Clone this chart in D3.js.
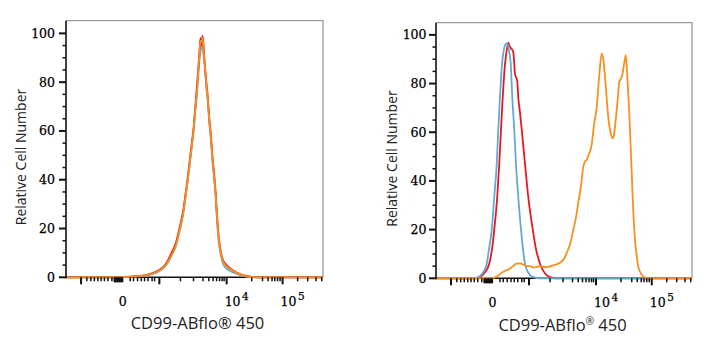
<!DOCTYPE html>
<html><head><meta charset="utf-8">
<script src="https://cdn.jsdelivr.net/npm/d3@7"></script>
<style>body{margin:0;background:#fff}svg{display:block}</style>
</head><body><svg id="c" width="713" height="350"></svg>
<script>
// ---- data (x in display channel units 0..1024, y = relative cell number) ----
const leftX      = [0,216,256,296,336,368,388,404,420,436,452,468,476,484,492,500,508,516,520,528,532,536,540,544,548,552,560,564,572,576,584,588,596,604,612,620,628,640,656,676,704,736,760,1024];
const leftOrange = [0,0,0.2,0.5,1.2,2.5,4,6,9,12.5,19,27,33,39,46,53,60,70,74,86,92,97,96.5,98,93,88,78,74,63,59,48,44,34,21,13,8.5,6,4.5,3.2,2,0.8,0.2,0,0];
const leftBlue   = [0,0,0.2,0.5,1.1,2.3,3.8,5.8,8.8,12.3,18.8,26.5,32.5,38.5,45.5,52.5,59.5,69,73,84,89,93,95,94,91,87,77,73,62,58,47,43,33,20,12,7.5,5,3.5,2.5,1.6,0.6,0.1,0,0];
const leftRed    = [0,0,0.3,0.6,1.4,2.8,4.3,6.5,10,13.5,20,28,34,40,47,54,61,71,76,87,93,98,95,99,95,89,79,75,64,60,49,45,35,22,13.5,9,6.5,5,3.5,2.2,0.9,0.3,0,0];

const rightBlueX = [0,136,163,176,192,203,212,223,233,243,249,256,264,270,276,283,288,294,299,305,313,320,329,340,356,368,389,416,1024];
const rightBlueY = [0,0,0.3,1,3,6,12,20,33.5,47,61,74.5,88,93,95.8,96.5,95.5,92.5,88,74.5,61,47,33.5,20,6,2.5,0.5,0,0];
const rightRedX  = [0,160,176,192,213,224,233,245,253,260,267,276,282,289,294,300,309,316,325,329,336,343,356,369,387,400,416,436,456,476,1024];
const rightRedY  = [0,0,0.5,2,6,12,20,33.5,47,61,74.5,88,93,96.8,95.5,94.5,93,84,81,74.5,68,61,47,33.5,20,12,6,2,0.5,0,0];
const rightOrangeX = [0,224,244,269,296,323,336,363,376,389,416,443,469,496,512,523,536,549,560,569,580,589,596,603,612,623,632,643,652,663,669,676,689,698,707,712,720,728,733,740,746,752,759,764,772,783,788,796,803,809,820,829,849,1024];
const rightOrangeY = [0,0,0.8,2.7,4,6,6.1,5,5,4.4,5,4.6,5.3,6.4,8,10.5,14,19.8,25,31,38,45.8,48,48.6,51,55,63,70.4,82,92.4,90,82.8,66.3,60,57.5,59,66.3,75,80.7,82,84,88,91.7,85,70.4,43,30,15.7,9,4.8,2,0.7,0,0];

const yTicks = [0,20,40,60,80,100];
const yMinorTicks = [5,10,15,25,30,35,45,50,55,65,70,75,85,90,95];
const xMajorTicks = [60,372,640,863];
const xZeroTicks = [194,200,206,212,218,224];
const xMinorTicks = [83,99,113,127,140,153,167,183,256,269,285,300,313,327,343,353,456,508,546,569,586,600,612,622,630,740,783,805,821,832,843,853,923,963,996,1019];
const xTickLabels = [{v:226,base:"0",exp:""},{v:640,base:"10",exp:"4"},{v:863,base:"10",exp:"5"}];

const colors = {blue:"#62a9d6", red:"#e8161f", orange:"#f6901e"};

const svg = d3.select("#c");

function panel(cfg){
  const x = d3.scaleLinear().domain([0,1024]).range([cfg.x0, cfg.x1]);
  const y = d3.scaleLinear().domain([0, cfg.ymax]).range([cfg.y0, cfg.yTop]);
  const g = svg.append("g");
  const id = "clip"+cfg.name;
  svg.append("clipPath").attr("id", id).append("rect")
    .attr("x", cfg.x0).attr("y", cfg.yTop).attr("width", cfg.x1-cfg.x0).attr("height", cfg.y0-cfg.yTop+2);

  // frame top & right
  g.append("path").attr("d", `M${cfg.x0},${cfg.yTop}H${cfg.x1}V${cfg.y0}`)
    .attr("fill","none").attr("stroke","#9a9a9a").attr("stroke-width",1.3);

  // bottom axis line (under curves)
  g.append("line").attr("x1",cfg.x0).attr("x2",cfg.x1).attr("y1",y(0)).attr("y2",y(0))
    .attr("stroke","#111").attr("stroke-width",1.6);

  // curves
  const line = d3.line().x(d=>x(d[0])).y(d=>y(d[1])).curve(d3.curveMonotoneX);
  cfg.series.forEach(s=>{
    g.append("path").datum(s.xs.map((v,i)=>[v, s.ys[i]]))
      .attr("d", line).attr("fill","none").attr("stroke", s.color)
      .attr("stroke-width", 1.8).attr("stroke-linejoin","round")
      .attr("clip-path", `url(#${id})`);
  });

  // left axis line
  g.append("line").attr("x1",cfg.x0).attr("x2",cfg.x0).attr("y1",cfg.yTop).attr("y2",cfg.y0+1)
    .attr("stroke","#111").attr("stroke-width",1.6);

  // y ticks
  yTicks.forEach(t=>{
    g.append("line").attr("x1",cfg.x0-7).attr("x2",cfg.x0).attr("y1",y(t)).attr("y2",y(t))
      .attr("stroke","#111").attr("stroke-width",2);
    g.append("text").attr("x",cfg.x0-cfg.labGap).attr("y",y(t)).attr("dy","0.36em")
      .attr("text-anchor","end").attr("font-family","DejaVu Serif").attr("font-size",12.5)
      .attr("fill","#000").attr("stroke","#000").attr("stroke-width",0.25).text(t);
  });
  yMinorTicks.forEach(t=>{
    g.append("line").attr("x1",cfg.x0-3.5).attr("x2",cfg.x0).attr("y1",y(t)).attr("y2",y(t))
      .attr("stroke","#111").attr("stroke-width",1.5);
  });

  // x ticks
  const yb = y(0);
  xMajorTicks.forEach(t=>{
    g.append("line").attr("x1",x(t)).attr("x2",x(t)).attr("y1",yb).attr("y2",yb+7)
      .attr("stroke","#111").attr("stroke-width",2);
  });
  xZeroTicks.forEach(t=>{
    g.append("line").attr("x1",x(t)).attr("x2",x(t)).attr("y1",yb).attr("y2",yb+5)
      .attr("stroke","#111").attr("stroke-width",2.2);
  });
  xMinorTicks.forEach(t=>{
    g.append("line").attr("x1",x(t)).attr("x2",x(t)).attr("y1",yb).attr("y2",yb+4)
      .attr("stroke","#111").attr("stroke-width",1.5);
  });
  xTickLabels.forEach(l=>{
    const tx = g.append("text").attr("y", yb+29).attr("font-family","DejaVu Serif")
      .attr("font-size",12.5).attr("fill","#000").attr("stroke","#000").attr("stroke-width",0.25);
    if(l.exp===""){
      tx.attr("x", x(l.v)).attr("text-anchor","middle").text(l.base);
    } else {
      tx.attr("x", x(l.v)-2).attr("text-anchor","start");
      tx.append("tspan").text(l.base);
      tx.append("tspan").attr("font-size",10.5).attr("dy",-6.5).attr("dx",1.5).text(l.exp);
    }
  });

  // axis titles
  svg.append("text").attr("transform",`translate(${cfg.ytX},${(cfg.yTop+cfg.y0)/2+8}) rotate(-90)`)
    .attr("text-anchor","middle").attr("dominant-baseline","central")
    .attr("font-family","Open Sans").attr("font-size",14).attr("fill","#222")
    .text("Relative Cell Number");
  const xt = svg.append("text").attr("x",cfg.xtX).attr("y",cfg.xtY).attr("text-anchor","middle")
    .attr("font-family","Open Sans").attr("font-size",16.5).attr("fill","#222");
  if(cfg.supReg){
    xt.append("tspan").text("CD99-ABflo");
    xt.append("tspan").attr("font-size",10).attr("dy",-6).text("®");
    xt.append("tspan").attr("dy",6).text(" 450");
  } else {
    xt.text("CD99-ABflo® 450");
  }
}

panel({name:"L", x0:66, x1:323, yTop:20.7, y0:277.3, ymax:105.2, labGap:11, ytX:20, xtX:197.5, xtY:329, supReg:false,
  series:[{xs:leftX, ys:leftBlue, color:colors.blue},{xs:leftX, ys:leftRed, color:colors.red},{xs:leftX, ys:leftOrange, color:colors.orange}]});
panel({name:"R", x0:436, x1:692, yTop:22.7, y0:278.3, ymax:105, labGap:9.5, ytX:391.7, xtX:562.5, xtY:331, supReg:true,
  series:[{xs:rightRedX, ys:rightRedY, color:colors.red},{xs:rightBlueX, ys:rightBlueY, color:colors.blue},{xs:rightOrangeX, ys:rightOrangeY, color:colors.orange}]});
</script>
</body></html>
